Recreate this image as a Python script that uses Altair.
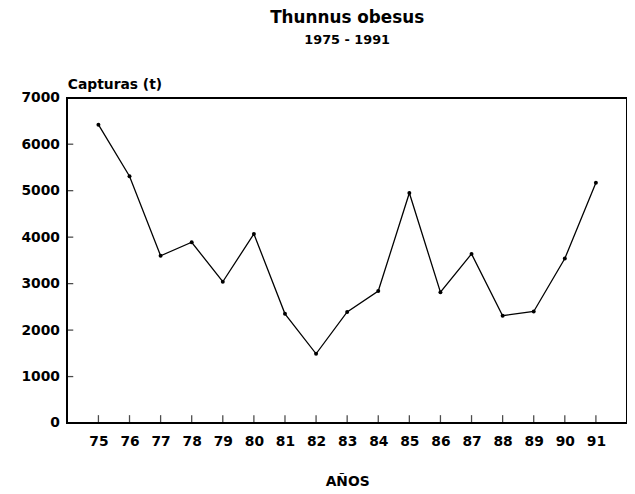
import altair as alt
import pandas as pd

years = [75, 76, 77, 78, 79, 80, 81, 82, 83, 84, 85, 86, 87, 88, 89, 90, 91]
capturas = [6420, 5310, 3600, 3890, 3040, 4070, 2350, 1490, 2390, 2840,
            4950, 2815, 3640, 2310, 2400, 3540, 5170]
y_ticks = [0, 1000, 2000, 3000, 4000, 5000, 6000, 7000]

df = pd.DataFrame({"anio": years, "capturas": capturas})
df_yt = pd.DataFrame({"v": y_ticks})

FONT = "DejaVu Sans"

xscale = alt.Scale(domain=[74, 92], nice=False, zero=False)
yscale = alt.Scale(domain=[0, 7000], nice=False)

common = dict(labelFont=FONT, labelFontSize=14, labelFontWeight="bold",
              labelColor="black", titleFont=FONT, titleFontSize=14,
              titleFontWeight="bold", titleColor="black", grid=False,
              domain=False, ticks=False, labelFlush=False, labelOverlap=False,
              format="d")

xaxis = alt.Axis(values=years, labelPadding=12, titlePadding=26, **common)
yaxis = alt.Axis(values=y_ticks, labelPadding=8, titleAngle=0,
                 titleAlign="left", titleBaseline="middle",
                 titleX=0, titleY=-13, **common)

frame = alt.Chart(df).mark_rect(
    fill=None, filled=False, stroke="black", strokeWidth=1.3
).encode(
    x=alt.datum(74, scale=xscale, title="AÑOS", axis=xaxis),
    x2=alt.datum(92),
    y=alt.datum(0, scale=yscale, title="Capturas (t)", axis=yaxis),
    y2=alt.datum(7000),
)

line = alt.Chart(df).mark_line(
    color="black", strokeWidth=1.3,
    point=alt.OverlayMarkDef(filled=True, color="black", size=16)
).encode(
    x=alt.X("anio:Q", scale=xscale, title="AÑOS", axis=xaxis),
    y=alt.Y("capturas:Q", scale=yscale, title="Capturas (t)", axis=yaxis),
)

xticks = alt.Chart(df).mark_tick(
    orient="vertical", color="black", size=8, thickness=1.3, yOffset=-4
).encode(
    x=alt.X("anio:Q", scale=xscale, title="AÑOS", axis=xaxis),
    y=alt.datum(0, scale=yscale, title="Capturas (t)", axis=yaxis),
)

yticks = alt.Chart(df_yt).mark_tick(
    orient="horizontal", color="black", size=6, thickness=1.3, xOffset=3
).encode(
    y=alt.Y("v:Q", scale=yscale, title="Capturas (t)", axis=yaxis),
    x=alt.datum(74, scale=xscale, title="AÑOS", axis=xaxis),
)

chart = alt.layer(frame, line, xticks, yticks).properties(
    width=566, height=329,
    title=alt.TitleParams(
        "Thunnus obesus", subtitle="1975 - 1991", anchor="middle",
        font=FONT, fontSize=17, fontWeight="bold", color="black",
        subtitleFont=FONT, subtitleFontSize=13, subtitleFontWeight="bold",
        subtitleColor="black", subtitlePadding=8, offset=30
    ),
    autosize=alt.AutoSizeParams(type="none"),
    padding={"left": 60, "top": 88, "right": 0, "bottom": 68},
    background="white",
).configure(
    background="white",
    view=alt.ViewConfig(strokeWidth=0),
)

chart.save("out.html", embed_options={"renderer": "svg", "actions": False})
